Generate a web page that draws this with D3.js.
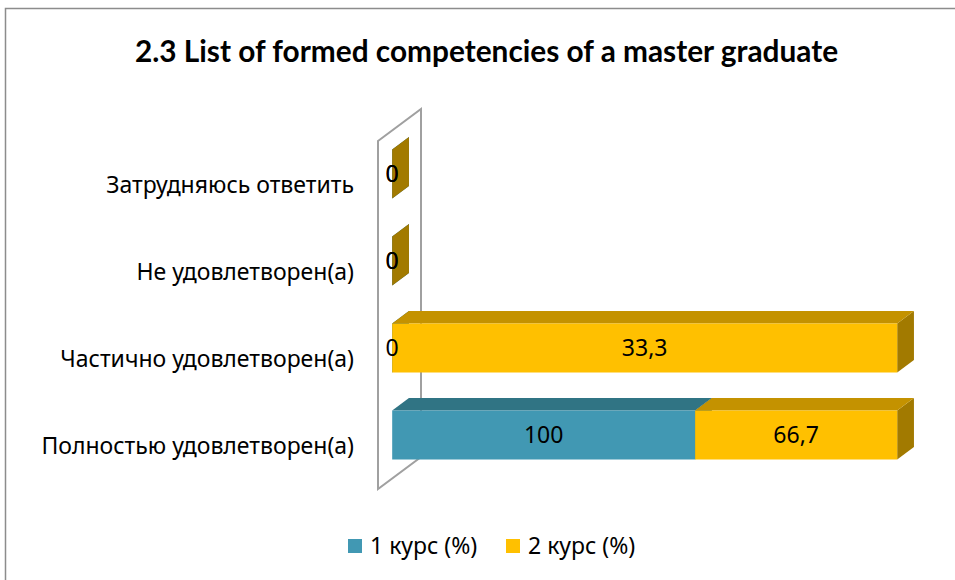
<!DOCTYPE html>
<html><head><meta charset="utf-8">
<script src="https://cdn.jsdelivr.net/npm/d3@7"></script>
<style>body{margin:0;background:#fff}svg{display:block}text{font-family:"Noto Sans",sans-serif}</style>
</head><body><svg id="c" width="955" height="580"></svg>
<script>
const categories = ["Полностью удовлетворен(а)", "Частично удовлетворен(а)", "Не удовлетворен(а)", "Затрудняюсь ответить"];
const seriesNames = ["1 курс (%)", "2 курс (%)"];
const course1 = [100, 0, 0, 0];
const course2 = [66.7, 33.3, 0, 0];
const title = "2.3 List of formed competencies of a master graduate";

const svg = d3.select("#c");
const colors = [
  {front:"#4198B3", top:"#307484", side:"#2A6878"},
  {front:"#FFC000", top:"#C49200", side:"#A27A00"}
];
svg.append("rect").attr("x",5.5).attr("y",8.5).attr("width",970).attr("height",600)
  .attr("fill","#fff").attr("stroke","#8c8c8c").attr("stroke-width",1.5);

svg.append("text").attr("x",486.5).attr("y",62).attr("text-anchor","middle")
  .style("font-family","Lato, sans-serif").attr("font-size",29.8).attr("font-weight","bold").text(title);

const x0 = 378, DX = 43, DY = -32, z1 = 0.33, z2 = 0.72;
const xs = d3.scaleLinear().domain([0,1]).range([0,505]);
const ys = d3.scaleBand().domain(categories.slice().reverse()).range([141,489])
  .paddingInner(0.437).paddingOuter(0.2185);

// wall
svg.append("polygon").attr("points",[[x0,141],[x0+DX,141+DY],[x0+DX,489+DY],[x0,489]].join(" "))
  .attr("fill","#fff").attr("stroke","#A0A0A0").attr("stroke-width",2);

const P = (v, yv, z) => [x0 + xs(v) + z*DX, yv + z*DY];

const rows = categories.map((c,i)=>{
  const vals = [course1[i], course2[i]];
  const tot = d3.sum(vals);
  let acc = 0;
  const segs = vals.map((v,k)=>{ const s = tot? acc/tot:0; acc += v; const e = tot? acc/tot:0; return {k,v,s,e}; });
  return {c, segs};
});

const g = svg.append("g");
rows.forEach(r=>{
  const yt = ys(r.c), yb = ys(r.c)+ys.bandwidth();
  r.segs.forEach(sg=>{
    const col = colors[sg.k];
    g.append("polygon").attr("points",[P(sg.e,yt,z1),P(sg.e,yt,z2),P(sg.e,yb,z2),P(sg.e,yb,z1)].join(" "))
      .attr("fill", col.side);
    if (sg.e > sg.s) {
      g.append("polygon").attr("points",[P(sg.s,yt,z1),P(sg.s,yt,z2),P(sg.e,yt,z2),P(sg.e,yt,z1)].join(" "))
        .attr("fill", col.top);
      g.append("polygon").attr("points",[P(sg.s,yt,z1),P(sg.e,yt,z1),P(sg.e,yb,z1),P(sg.s,yb,z1)].join(" "))
        .attr("fill", col.front);
    }
  });
});
// data labels
rows.forEach(r=>{
  const yc = ys(r.c)+ys.bandwidth()/2;
  r.segs.forEach(sg=>{
    const p = P((sg.s+sg.e)/2, yc, z1);
    g.append("text").attr("x",p[0]).attr("y",p[1]).attr("dy","0.36em").attr("text-anchor","middle")
      .attr("font-size",23).attr("fill","#000").text(String(sg.v).replace(".",","));
  });
});
// category labels
svg.append("g").selectAll("text").data(categories).join("text")
  .attr("x",354).attr("y",d=>ys(d)+ys.bandwidth()/2).attr("dy","0.36em").attr("text-anchor","end")
  .attr("font-size",23).attr("fill","#000").text(d=>d);

// legend
const lx = [348, 506];
seriesNames.forEach((s,i)=>{
  svg.append("rect").attr("x",lx[i]).attr("y",539).attr("width",14).attr("height",14).attr("fill",colors[i].front);
  svg.append("text").attr("x",lx[i]+22).attr("y",546).attr("dy","0.36em").attr("font-size",23).text(s);
});
</script></body></html>
